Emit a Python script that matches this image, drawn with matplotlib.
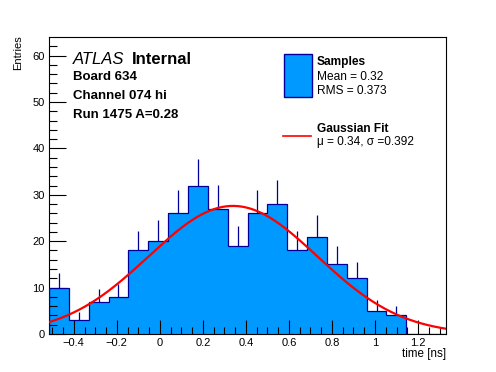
import numpy as np
import matplotlib.pyplot as plt
from matplotlib.patches import Rectangle
from matplotlib.lines import Line2D

plt.rcParams['font.family'] = ['Liberation Sans', 'DejaVu Sans']

# histogram data (20 bins)
hist_lo = -0.515
hist_hi = 1.33
counts = [10, 3, 7, 8, 18, 20, 26, 32, 27, 19, 26, 28, 18, 21, 15, 12, 5, 4, 0, 0]

# fit results
fit_amp = 27.6
fit_mu = 0.34
fit_sigma = 0.392

board_lines = ["Board 634", "Channel 074 hi", "Run 1475 A=0.28"]
sample_stats = ["Mean = 0.32", "RMS = 0.373"]
fit_label = "\u03bc = 0.34, \u03c3 =0.392"

W, H = 496, 372
fig = plt.figure(figsize=(W / 100, H / 100), dpi=100)
ax = fig.add_axes([49 / W, 1 - 334 / H, (446 - 49) / W, (334 - 37) / H])

fill_col = '#0099ff'
edge_col = '#000099'

counts = np.array(counts, dtype=float)
edges = np.linspace(hist_lo, hist_hi, len(counts) + 1)
centers = 0.5 * (edges[1:] + edges[:-1])

# error bars (upper half visible above the fill)
ax.vlines(centers, counts, counts + np.sqrt(counts), color=edge_col, lw=0.9, zorder=2)
ax.stairs(counts, edges, fill=True, color=fill_col, zorder=1)
ax.stairs(counts, edges, color=edge_col, lw=0.9, zorder=3)

# gaussian fit curve
xf = np.linspace(hist_lo, hist_hi, 400)
yf = fit_amp * np.exp(-0.5 * ((xf - fit_mu) / fit_sigma) ** 2)
ax.plot(xf, yf, color='red', lw=1.6, zorder=4)

ax.set_xlim(hist_lo, hist_hi)
ax.set_ylim(0, 64)
ax.set_xticks(np.arange(-0.4, 1.21, 0.2))
ax.set_xticks(np.arange(-0.5, 1.31, 0.05), minor=True)
ax.set_yticks(np.arange(0, 61, 10))
ax.set_yticks(np.arange(0, 64, 2), minor=True)
ax.xaxis.set_major_formatter(plt.FuncFormatter(lambda v, p: f"{v:g}".replace('-', '\u2212') if abs(v) > 1e-9 else "0"))
ax.tick_params(which='both', direction='in', labelsize=8, top=False, right=False, width=0.8)
ax.tick_params(which='major', length=10)
ax.tick_params(which='minor', length=5)
ax.tick_params(axis='y', which='major', length=12, pad=3)
ax.tick_params(axis='y', which='minor', length=6)
ax.tick_params(axis='x', pad=3)
for s in ax.spines.values():
    s.set_linewidth(0.8)

# axis titles
fig.text(18 / W, 1 - 35 / H, "Entries", rotation=90, ha='center', va='top', fontsize=8)
fig.text(446 / W, 1 - 348 / H, "time [ns]", ha='right', va='top', fontsize=8.4)

# ATLAS label
fig.text(73 / W, 1 - 64.5 / H, "ATLAS", fontsize=12, style='italic', va='baseline')
fig.text(132 / W, 1 - 64.5 / H, "Internal", fontsize=12, weight='bold', va='baseline')
for i, t in enumerate(board_lines):
    fig.text(73 / W, 1 - (80.5 + 18.5 * i) / H, t, fontsize=9.5, weight='bold', va='baseline')

# legend
fig.patches.append(Rectangle((283.5 / W, 1 - 96.5 / H), 28 / W, 43 / H, transform=fig.transFigure,
                             facecolor=fill_col, edgecolor=edge_col, lw=1))
fig.text(317 / W, 1 - 65 / H, "Samples", fontsize=8.6, weight='bold', va='baseline')
for i, t in enumerate(sample_stats):
    fig.text(317 / W, 1 - (80.5 + 13.5 * i) / H, t, fontsize=8.6, va='baseline')
fig.lines.append(Line2D([283 / W, 311 / W], [1 - 136 / H] * 2, transform=fig.transFigure,
                        color='red', lw=1.2))
fig.text(317 / W, 1 - 132.5 / H, "Gaussian Fit", fontsize=8.6, weight='bold', va='baseline')
fig.text(317 / W, 1 - 145.5 / H, fit_label, fontsize=8.6, va='baseline')

fig.savefig('out.png', dpi=100)
